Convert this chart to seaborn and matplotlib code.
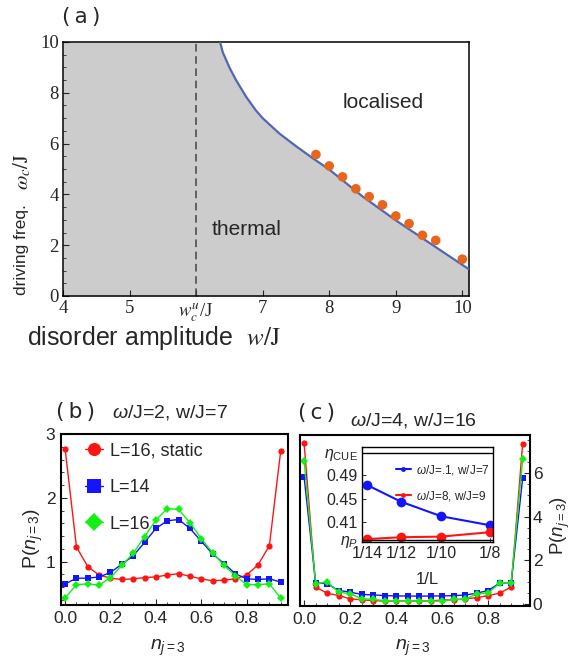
import numpy as np
import pandas as pd
import matplotlib
matplotlib.use("Agg")
import matplotlib.pyplot as plt
import seaborn as sns
from matplotlib.ticker import MultipleLocator, FixedLocator, NullLocator

# ---------------- data ----------------
# (a) phase diagram
boundary_w = [6.36, 6.40, 6.50, 6.60, 6.75, 6.90, 7.00, 7.25, 7.50, 7.75, 8.00, 8.50, 9.00, 9.50, 10.10]
boundary_omega = [10.0, 9.6, 9.0, 8.5, 7.85, 7.3, 7.0, 6.4, 5.9, 5.43, 4.98, 3.92, 2.98, 2.10, 1.05]
numerics_w = [7.8, 8.0, 8.2, 8.4, 8.6, 8.8, 9.0, 9.2, 9.4, 9.6, 10.0]
numerics_omega = [5.57, 5.12, 4.69, 4.22, 3.91, 3.59, 3.15, 2.85, 2.39, 2.19, 1.45]
wc_u = 6.0
a_xticks = [4, 5, 6, 7, 8, 9, 10]
a_xticklabels = ["4", "5", r"$w_c^u$/J", "7", "8", "9", "10"]
a_yticks = [0, 2, 4, 6, 8, 10]

# (b), (c) distributions of n_{j=3}
n_vals = [0.00, 0.05, 0.10, 0.15, 0.20, 0.25, 0.30, 0.35, 0.40, 0.45,
          0.50, 0.55, 0.60, 0.65, 0.70, 0.75, 0.80, 0.85, 0.90, 0.95]
series_names = ["L=16, static", "L=14", "L=16"]

b_static = [2.77, 1.23, 0.92, 0.79, 0.74, 0.72, 0.73, 0.75, 0.76, 0.79,
            0.81, 0.77, 0.73, 0.70, 0.71, 0.73, 0.79, 0.95, 1.25, 2.74]
b_L14 = [0.65, 0.74, 0.74, 0.76, 0.83, 0.96, 1.09, 1.30, 1.52, 1.64,
         1.66, 1.52, 1.32, 1.12, 0.97, 0.81, 0.73, 0.72, 0.73, 0.68]
b_L16 = [0.43, 0.64, 0.65, 0.63, 0.75, 0.94, 1.13, 1.39, 1.65, 1.83,
         1.82, 1.61, 1.36, 1.14, 0.94, 0.78, 0.64, 0.64, 0.65, 0.43]

c_static = [7.36, 0.77, 0.49, 0.38, 0.23, 0.18, 0.15, 0.12, 0.13, 0.13,
            0.13, 0.13, 0.18, 0.18, 0.23, 0.28, 0.38, 0.49, 0.77, 7.34]
c_L14 = [5.80, 0.97, 0.92, 0.61, 0.54, 0.43, 0.41, 0.38, 0.36, 0.36,
         0.35, 0.36, 0.36, 0.38, 0.40, 0.49, 0.61, 0.95, 0.95, 5.76]
c_L16 = [6.57, 0.92, 1.00, 0.54, 0.46, 0.23, 0.20, 0.15, 0.12, 0.12,
         0.12, 0.12, 0.12, 0.20, 0.20, 0.46, 0.49, 0.95, 0.95, 6.63]

# inset of (c): level-statistics ratio vs 1/L
inset_invL = [1 / 14, 1 / 12, 1 / 10, 1 / 8]
inset_xticklabels = ["1/14", "1/12", "1/10", "1/8"]
inset_names = [r"$\omega$/J=.1, w/J=7", r"$\omega$/J=8, w/J=9"]
inset_thermal = [0.4733, 0.4447, 0.4199, 0.4044]
inset_local = [0.3810, 0.3841, 0.3852, 0.3928]
eta_P = 0.3795
eta_CUE = 0.5279

# ---------------- style ----------------
sns.set_style("ticks")
plt.rcParams.update({
    "font.family": ["Liberation Sans", "DejaVu Sans"],
    "font.serif": ["Liberation Serif", "DejaVu Serif"],
    "mathtext.fontset": "custom",
    "mathtext.rm": "Liberation Sans",
    "mathtext.it": "Liberation Sans:italic",
    "mathtext.bf": "Liberation Sans:bold",
    "xtick.direction": "in",
    "ytick.direction": "in",
    "axes.linewidth": 1.2,
    "axes.edgecolor": "black",
})

W, H = 576, 664
fig = plt.figure(figsize=(W / 100, H / 100), dpi=100)


def fax(l, t, r, b):
    return fig.add_axes([l / W, 1 - b / H, (r - l) / W, (b - t) / H])


# ================= (a) =================
axA = fax(63, 42, 469, 296)
fill_x = [4.0] + boundary_w
fill_y = [10.0] + boundary_omega
axA.fill_between(fill_x, 0, fill_y, color="#cccccc", lw=0, zorder=0)
sns.lineplot(x=boundary_w, y=boundary_omega, ax=axA, color="#5266b6", lw=1.6,
             sort=False, estimator=None, zorder=3)
sns.scatterplot(x=numerics_w, y=numerics_omega, ax=axA, color="#e8661c", s=48,
                edgecolor="none", zorder=5)
axA.axvline(wc_u, color="#444444", ls=(0, (5, 3)), lw=1.1, zorder=2)
axA.set_xlim(4, 10.1)
axA.set_ylim(0, 10)
axA.xaxis.set_major_locator(FixedLocator(a_xticks))
axA.set_xticklabels(a_xticklabels)
axA.yaxis.set_major_locator(FixedLocator(a_yticks))
axA.yaxis.set_minor_locator(MultipleLocator(0.5))
axA.tick_params(which="major", length=4, width=0.8, labelsize=13.5, pad=3,
                labelfontfamily="Liberation Serif")
axA.tick_params(which="minor", length=2.5, width=0.6)
axA.set_xlabel("")
axA.set_ylabel("")
for sp in axA.spines.values():
    sp.set_linewidth(1.1)

fig.text(81 / W, 1 - 17 / H, "(\u2009a\u2009)", fontsize=15.5, family="DejaVu Sans",
         ha="center", va="center")
fig.text(383 / W, 1 - 102 / H, "localised", fontsize=15, ha="center", va="center")
fig.text(247 / W, 1 - 229 / H, "thermal", fontsize=15, ha="center", va="center")
t = fig.text(154 / W, 1 - 338 / H, r"disorder amplitude  $w/\mathrm{J}$", fontsize=18,
             ha="center", va="center")
t.set_math_fontfamily("stix")
fig.text(22 / W, 1 - 250 / H, "driving freq.", fontsize=12.5,
         ha="center", va="center", rotation=90)
t = fig.text(22 / W, 1 - 172 / H, r"$\omega_c/\mathrm{J}$", fontsize=15,
             ha="center", va="center", rotation=90)
t.set_math_fontfamily("stix")

# ================= (b), (c) =================
palette = {"L=16, static": "#ff1414", "L=14": "#1414ff", "L=16": "#14f014"}
markers = {"L=16, static": "o", "L=14": "s", "L=16": "D"}


def long_df(series_list):
    rows = []
    for name, ys in zip(series_names, series_list):
        for xi, yi in zip(n_vals, ys):
            rows.append((name, xi, yi))
    return pd.DataFrame(rows, columns=["series", "n", "P"])


dfb = long_df([b_static, b_L14, b_L16])
dfc = long_df([c_static, c_L14, c_L16])

axB = fax(61, 434, 288, 605)
sns.lineplot(data=dfb, x="n", y="P", hue="series", style="series",
             hue_order=series_names, style_order=series_names,
             palette=palette, markers=markers, dashes=False,
             markersize=4.5, markeredgewidth=0, linewidth=1.0,
             estimator=None, sort=False, ax=axB)
axB.set_xlim(-0.018, 0.982)
axB.set_ylim(0.32, 3.0)
axB.set_xticks([0.0, 0.2, 0.4, 0.6, 0.8])
axB.set_xticklabels(["0.0", "0.2", "0.4", "0.6", "0.8"])
axB.set_yticks([1, 2, 3])
axB.xaxis.set_minor_locator(MultipleLocator(0.05))
axB.yaxis.set_minor_locator(MultipleLocator(0.2))
axB.tick_params(which="major", length=4, width=0.8, labelsize=12.5, pad=4)
axB.tick_params(which="minor", length=2, width=0.6)
axB.set_xlabel("")
axB.set_ylabel("")
for sp in axB.spines.values():
    sp.set_linewidth(1.5)
h, l = axB.get_legend_handles_labels()
axB.legend(h, l, loc="upper left", bbox_to_anchor=(0.075, 0.995), frameon=False,
           fontsize=13, labelspacing=1.1, handlelength=1.0, handletextpad=0.35,
           markerscale=2.1, borderaxespad=0)

axC = fax(300, 435, 530, 606)
sns.lineplot(data=dfc, x="n", y="P", hue="series", style="series",
             hue_order=series_names, style_order=series_names,
             palette=palette, markers=markers, dashes=False,
             markersize=4.5, markeredgewidth=0, linewidth=1.0,
             estimator=None, sort=False, ax=axC, legend=False)
axC.set_xlim(-0.018, 0.982)
axC.set_ylim(-0.1, 7.75)
axC.set_xticks([0.0, 0.2, 0.4, 0.6, 0.8])
axC.set_xticklabels(["0.0", "0.2", "0.4", "0.6", "0.8"])
axC.set_yticks([0, 2, 4, 6])
axC.yaxis.tick_right()
axC.xaxis.set_minor_locator(MultipleLocator(0.05))
axC.yaxis.set_minor_locator(MultipleLocator(0.5))
axC.tick_params(which="major", length=4, width=0.8, labelsize=12.5, pad=4)
axC.tick_params(axis="y", labelsize=12.5, pad=2)
axC.tick_params(which="minor", length=2, width=0.6)
axC.set_xlabel("")
axC.set_ylabel("")
for sp in axC.spines.values():
    sp.set_linewidth(1.5)

# panel labels and titles
fig.text(75 / W, 1 - 412 / H, "(\u2009b\u2009)", fontsize=15.5, family="DejaVu Sans",
         ha="center", va="center")
fig.text(170 / W, 1 - 412 / H, r"$\omega$/J=2, w/J=7", fontsize=14, ha="center", va="center")
fig.text(317 / W, 1 - 413 / H, "(\u2009c\u2009)", fontsize=15.5, family="DejaVu Sans",
         ha="center", va="center")
fig.text(413 / W, 1 - 421 / H, r"$\omega$/J=4, w/J=16", fontsize=14, ha="center", va="center")
fig.text(33 / W, 1 - 538 / H, r"P($n_{j\mathrm{=3}}$)", fontsize=14, ha="center", va="center",
         rotation=90)
fig.text(560 / W, 1 - 525 / H, r"P($n_{j\mathrm{=3}}$)", fontsize=13.5, ha="center", va="center",
         rotation=90)
fig.text(168 / W, 1 - 648 / H, r"$n_{j\mathrm{=3}}$", fontsize=14, ha="center", va="center")
fig.text(413 / W, 1 - 648 / H, r"$n_{j\mathrm{=3}}$", fontsize=14, ha="center", va="center")

# ================= inset =================
axI = fax(362, 447, 493, 542)
axI.set_xscale("log")
dfi = pd.DataFrame({
    "invL": inset_invL * 2,
    "eta": inset_thermal + inset_local,
    "case": [inset_names[0]] * 4 + [inset_names[1]] * 4,
})
sns.lineplot(data=dfi, x="invL", y="eta", hue="case", hue_order=inset_names,
             palette={inset_names[0]: "#1414ff", inset_names[1]: "#ff1414"},
             marker="o", markersize=7, markeredgewidth=0, linewidth=1.5,
             estimator=None, sort=False, ax=axI)
axI.axhline(eta_P, color="black", lw=1.0)
axI.axhline(eta_CUE, color="black", lw=1.0)
axI.set_xlim(0.06983, 0.1265)
axI.set_ylim(0.376, 0.538)
axI.xaxis.set_major_locator(FixedLocator(inset_invL))
axI.xaxis.set_minor_locator(NullLocator())
axI.set_xticklabels(inset_xticklabels)
axI.set_yticks([eta_P, 0.41, 0.45, 0.49, eta_CUE])
axI.set_yticklabels([r"$\eta_P$", "0.41", "0.45", "0.49", r"$\eta_{\mathrm{CUE}}$"])
axI.yaxis.set_minor_locator(NullLocator())
axI.tick_params(which="major", length=3, width=0.7, labelsize=11.5, pad=3)
axI.set_xlabel("")
axI.set_ylabel("")
for sp in axI.spines.values():
    sp.set_linewidth(1.0)
hi, li = axI.get_legend_handles_labels()
axI.legend(hi, li, loc="upper left", bbox_to_anchor=(0.22, 0.88), frameon=False,
           fontsize=8.5, labelspacing=1.0, handlelength=1.3, handletextpad=0.4,
           markerscale=0.5, borderaxespad=0)
fig.text(427 / W, 1 - 580 / H, "1/L", fontsize=12, ha="center", va="center")

# serif tick labels for panel (a) (math in Times-like STIX)
fig.canvas.draw()
for lbl in axA.get_xticklabels() + axA.get_yticklabels():
    lbl.set_fontfamily("Liberation Serif")
    lbl.set_math_fontfamily("stix")

fig.savefig("out.png", dpi=100)
